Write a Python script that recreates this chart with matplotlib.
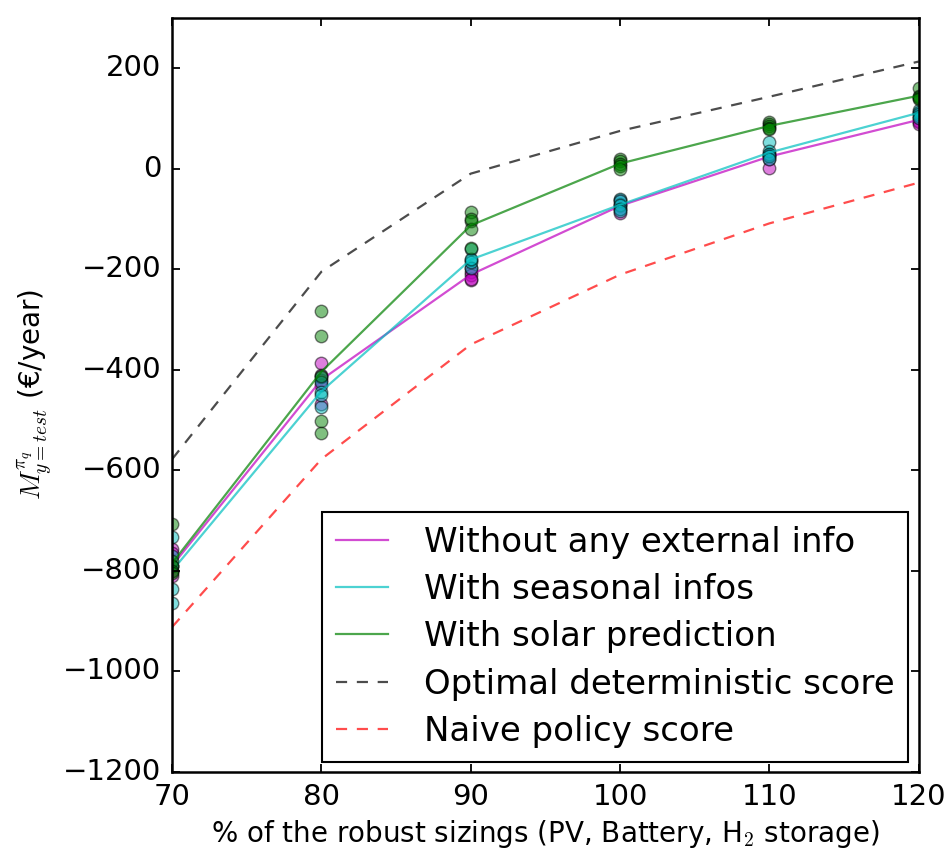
import numpy as np
import matplotlib
matplotlib.use("Agg")
import matplotlib.pyplot as plt

# ---------------------------------------------------
# Data
# ---------------------------------------------------

sizings = [70, 80, 90, 100, 110, 120]

# individual runs per sizing
runs_none = [
    [-757, -765, -790, -800, -810],
    [-386, -410, -420, -469, -430],
    [-197, -205, -211, -221, -220],
    [-62, -70, -75, -80, -88],
    [30, 28, 25, 20, 2],
    [110, 100, 95, 92, 88],
]
runs_seasonal = [
    [-732, -837, -865, -770, -790],
    [-415, -425, -445, -475, -450],
    [-160, -181, -197, -185, -180],
    [-60, -65, -72, -80, -85],
    [52, 35, 30, 25, 20],
    [117, 112, 108, 105, 100],
]
runs_solar = [
    [-708, -780, -790, -800, -805],
    [-284, -334, -413, -503, -527],
    [-87, -105, -121, -157, -100],
    [20, 15, 10, 5, 0],
    [92, 88, 85, 80, 78],
    [160, 145, 140, 143, 138],
]

mean_none = [-790, -420, -211, -74, 24, 97]
mean_seasonal = [-800, -443, -181, -72, 32, 111]
mean_solar = [-785, -404, -113, 10, 85, 145]

optimal_score = [-578, -205, -10, 75, 143, 213]
naive_score = [-912, -578, -350, -211, -109, -28]

# ---------------------------------------------------
# Plot
# ---------------------------------------------------

plt.style.use("classic")
plt.rcParams["figure.facecolor"] = "white"
plt.rcParams["axes.linewidth"] = 1.8

fig = plt.figure(figsize=(9.51, 8.49), dpi=100)
ax = fig.add_axes([0.181, 0.091, 0.785, 0.888])

series = [
    (runs_none, mean_none, "m", "Without any external info"),
    (runs_seasonal, mean_seasonal, "c", "With seasonal infos"),
    (runs_solar, mean_solar, "g", "With solar prediction"),
]

for runs, means, color, label in series:
    for x, vals in zip(sizings, runs):
        ax.plot([x] * len(vals), vals, "o", color=color, alpha=0.5,
                markersize=9, markeredgecolor="k", markeredgewidth=1)
    ax.plot(sizings, means, "-", color=color, alpha=0.7, linewidth=1.6,
            label=label)

ax.plot(sizings, optimal_score, "--", color="k", alpha=0.7, linewidth=1.6,
        dashes=(8, 7), label="Optimal deterministic score")
ax.plot(sizings, naive_score, "--", color="r", alpha=0.7, linewidth=1.6,
        dashes=(8, 7), label="Naive policy score")

ax.set_xlim(70, 120)
ax.set_ylim(-1200, 300)
ax.tick_params(labelsize=21, length=6, width=1.3, pad=8)

ax.set_xlabel("% of the robust sizings (PV, Battery, H$_2$ storage)",
              fontsize=20)
ax.set_ylabel("$M^{\\pi_q}_{y=test}$ (\u20ac/year)", fontsize=20)

leg = ax.legend(loc="lower right", fontsize=24.5, numpoints=1,
                handlelength=1.55, handletextpad=1.05,
                borderaxespad=0.3, labelspacing=0.42)
leg.get_frame().set_linewidth(1.5)

fig.savefig("out.png", dpi=100)
